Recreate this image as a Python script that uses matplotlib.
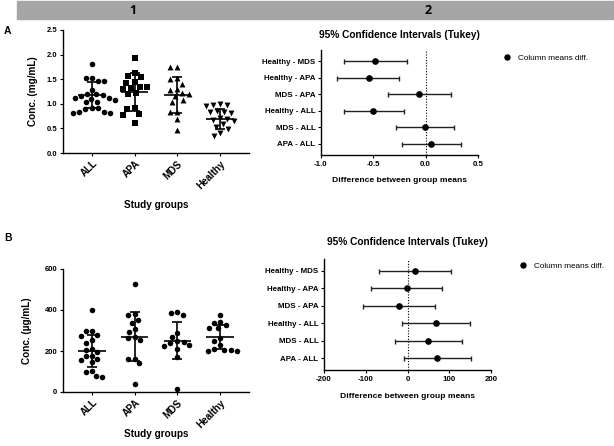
import numpy as np
import matplotlib
matplotlib.use('Agg')
import matplotlib.pyplot as plt
from matplotlib.patches import Rectangle
from matplotlib.lines import Line2D

plt.rcParams['font.family'] = ['Liberation Sans', 'DejaVu Sans']

groups = ['ALL', 'APA', 'MDS', 'Healthy']

# panel A - concentration (mg/mL)
a_all = [1.81, 1.52, 1.53, 1.47, 1.46, 1.29, 1.20, 1.19, 1.17, 1.15, 1.12, 1.11,
         1.10, 1.08, 1.04, 1.03, 0.92, 0.91, 0.90, 0.83, 0.82, 0.82, 0.83]
a_apa = [1.93, 1.63, 1.57, 1.55, 1.45, 1.43, 1.35, 1.34, 1.32, 1.30, 1.21, 1.19,
         0.91, 0.90, 0.80, 0.78, 0.61]
a_mds = [1.75, 1.75, 1.52, 1.50, 1.41, 1.31, 1.29, 1.21, 1.20, 1.16, 1.07, 1.03,
         0.84, 0.83, 0.69, 0.46]
a_healthy = [0.98, 0.97, 0.99, 0.96, 0.86, 0.84, 0.83, 0.82, 0.71, 0.70, 0.68,
             0.66, 0.58, 0.52, 0.48, 0.40, 0.35]
a_mean = [1.18, 1.24, 1.18, 0.69]
a_sd = [0.27, 0.38, 0.36, 0.20]

# panel B - concentration (ug/mL)
b_all = [402, 298, 298, 280, 275, 253, 240, 212, 207, 195, 178, 174, 160, 154,
         145, 104, 96, 79, 74]
b_apa = [527, 380, 375, 352, 335, 307, 294, 270, 262, 253, 162, 160, 140, 38]
b_mds = [388, 378, 383, 286, 270, 250, 245, 240, 228, 225, 212, 170, 17]
b_healthy = [377, 340, 335, 326, 311, 310, 261, 250, 228, 212, 205, 203, 200, 198]
b_mean = [200, 270, 251, 268]
b_sd = [80, 118, 90, 58]

# Tukey comparisons
pairs = ['Healthy - MDS', 'Healthy - APA', 'MDS - APA',
         'Healthy - ALL', 'MDS - ALL', 'APA - ALL']
a_diff = [-0.48, -0.545, -0.06, -0.50, -0.01, 0.055]
a_lo = [-0.78, -0.85, -0.36, -0.78, -0.28, -0.23]
a_hi = [-0.18, -0.25, 0.24, -0.21, 0.27, 0.335]
b_diff = [17.6, -2, -21, 68, 50, 70]
b_lo = [-68, -88, -106, -12, -29, -9]
b_hi = [104, 83, 65, 149, 130, 151]

W, H = 614, 446
fig = plt.figure(figsize=(W / 100, H / 100), dpi=100)


def box(x0, y0, x1, y1):
    # pixel box (top-left origin) -> figure fraction
    return [x0 / W, 1 - y1 / H, (x1 - x0) / W, (y1 - y0) / H]


def swarm(values, pos, xscale, yscale, d=6.5):
    # simple beeswarm in pixel space, returns x in data units
    vals = np.asarray(values, float)
    xs = np.zeros(len(vals))
    placed = []
    for i in np.argsort(-vals):
        y = vals[i] * yscale
        near = [(px, py) for px, py in placed if abs(py - y) < d]
        cands = [0.0]
        for px, py in near:
            dx = np.sqrt(d * d - (py - y) ** 2)
            cands += [px - dx, px + dx]
        cands.sort(key=abs)
        for off in cands:
            if all((off - px) ** 2 + (y - py) ** 2 >= d * d - 1e-6 for px, py in near):
                break
        placed.append((off, y))
        xs[i] = pos + off / xscale
    return xs


def style(ax):
    for s in ['top', 'right']:
        ax.spines[s].set_visible(False)
    for s in ['left', 'bottom']:
        ax.spines[s].set_linewidth(1.0)
    ax.tick_params(direction='out', length=2.5, width=0.8, pad=1.5)
    for lab in ax.get_xticklabels() + ax.get_yticklabels():
        lab.set_fontweight('bold')


def column_plot(ax, data, markers, mean, sd, ymax, yticks, ylabel, xlab_y, ylab_x):
    xscale = 186 / 4.36
    yscale = 123 / ymax
    sizes = {'o': 16, 's': 13, '^': 18, 'v': 18}
    gaps = {'o': 6.5, 's': 7.2, '^': 7.0, 'v': 7.0}
    for i, (vals, m) in enumerate(zip(data, markers)):
        xs = swarm(vals, i, xscale, yscale, gaps[m])
        ax.scatter(xs, vals, marker=m, s=sizes[m], color='black',
                   linewidths=0, zorder=2)
    pos = np.arange(len(groups))
    ax.hlines(mean, pos - 0.32, pos + 0.32, color='black', lw=1.2, zorder=3)
    ax.errorbar(pos, mean, yerr=sd, fmt='none', ecolor='black', elinewidth=1.2,
                capsize=3.4, capthick=1.2, zorder=3)
    ax.set_xlim(-0.68, 3.68)
    ax.set_ylim(0, ymax)
    ax.set_yticks(yticks)
    ax.set_xticks(pos)
    ax.set_xticklabels(groups, rotation=45, ha='right', rotation_mode='anchor',
                       fontsize=7)
    ax.tick_params(axis='y', labelsize=5.5)
    ax.set_ylabel(ylabel, fontsize=7.2, fontweight='bold')
    ax.yaxis.set_label_coords(ylab_x, 0.5)
    ax.set_xlabel('Study groups', fontsize=7.2, fontweight='bold')
    ax.xaxis.set_label_coords(0.5, xlab_y)
    style(ax)


def ci_plot(ax, diff, lo, hi, xlim, xticks, xtlabels, title_y, xlab_y, leg_xy):
    y = np.arange(len(pairs), 0, -1)
    diff = np.asarray(diff)
    err = [diff - np.asarray(lo), np.asarray(hi) - diff]
    ax.axvline(0, color='black', lw=0.8, ls=(0, (1, 1.5)), zorder=1)
    ax.errorbar(diff, y, xerr=err, fmt='o', color='black', ms=3.8,
                ecolor='#222222', elinewidth=1.0, capsize=1.8, capthick=1.0, zorder=2)
    ax.set_xlim(*xlim)
    ax.set_ylim(0.33, 6.67)
    ax.set_xticks(xticks)
    ax.set_xticklabels(xtlabels)
    ax.set_yticks(y)
    ax.set_yticklabels(pairs)
    ax.tick_params(labelsize=5.7)
    ax.set_title('95% Confidence Intervals (Tukey)', fontsize=7.3,
                 fontweight='bold', y=title_y)
    ax.set_xlabel('Difference between group means', fontsize=6.1, fontweight='bold')
    ax.xaxis.set_label_coords(0.5, xlab_y)
    style(ax)
    handle = Line2D([], [], marker='o', color='black', ls='none', ms=3.6)
    ax.legend([handle], ['Column means diff.'], loc='center left',
              bbox_to_anchor=leg_xy, bbox_transform=fig.transFigure,
              frameon=False, fontsize=5.9, handlelength=1.0,
              handletextpad=0.8, borderpad=0, borderaxespad=0)


# header bars
fig.patches.append(Rectangle((17 / W, 1 - 19 / H), (613 - 17) / W, 18 / H,
                             transform=fig.transFigure, color='#a6a6a6', zorder=0))
fig.text(133 / W, 1 - 10.5 / H, '1', fontsize=9, fontweight='bold',
         ha='center', va='center', family=['Open Sans', 'DejaVu Sans'])
fig.text(428 / W, 1 - 10.5 / H, '2', fontsize=9, fontweight='bold',
         ha='center', va='center', family=['Open Sans', 'DejaVu Sans'])
fig.text(4 / W, 1 - 31 / H, 'A', fontsize=7.5, fontweight='bold', va='center')
fig.text(4 / W, 1 - 238 / H, 'B', fontsize=7.5, fontweight='bold', va='center')

ax1 = fig.add_axes(box(63, 30, 249, 153))
column_plot(ax1, [a_all, a_apa, a_mds, a_healthy], ['o', 's', '^', 'v'],
            a_mean, a_sd, 2.5, [0, 0.5, 1.0, 1.5, 2.0, 2.5], 'Conc. (mg/mL)',
            -0.385, -0.135)
ax1.set_yticklabels(['0.0', '0.5', '1.0', '1.5', '2.0', '2.5'])

ax2 = fig.add_axes(box(321, 50, 478, 155))
ci_plot(ax2, a_diff, a_lo, a_hi, (-1.0, 0.5), [-1.0, -0.5, 0.0, 0.5],
        ['-1.0', '-0.5', '0.0', '0.5'], 1.035, -0.21, (503 / W, 1 - 58 / H))

ax3 = fig.add_axes(box(63, 269, 249, 392))
column_plot(ax3, [b_all, b_apa, b_mds, b_healthy], ['o', 'o', 'o', 'o'],
            b_mean, b_sd, 600, [0, 200, 400, 600], 'Conc. (\u00b5g/mL)',
            -0.30, -0.165)

ax4 = fig.add_axes(box(324, 259, 491, 370))
ci_plot(ax4, b_diff, b_lo, b_hi, (-200, 200), [-200, -100, 0, 100, 200],
        ['-200', '-100', '0', '100', '200'], 1.055, -0.205, (519 / W, 1 - 266 / H))

fig.savefig('out.png', dpi=100)
